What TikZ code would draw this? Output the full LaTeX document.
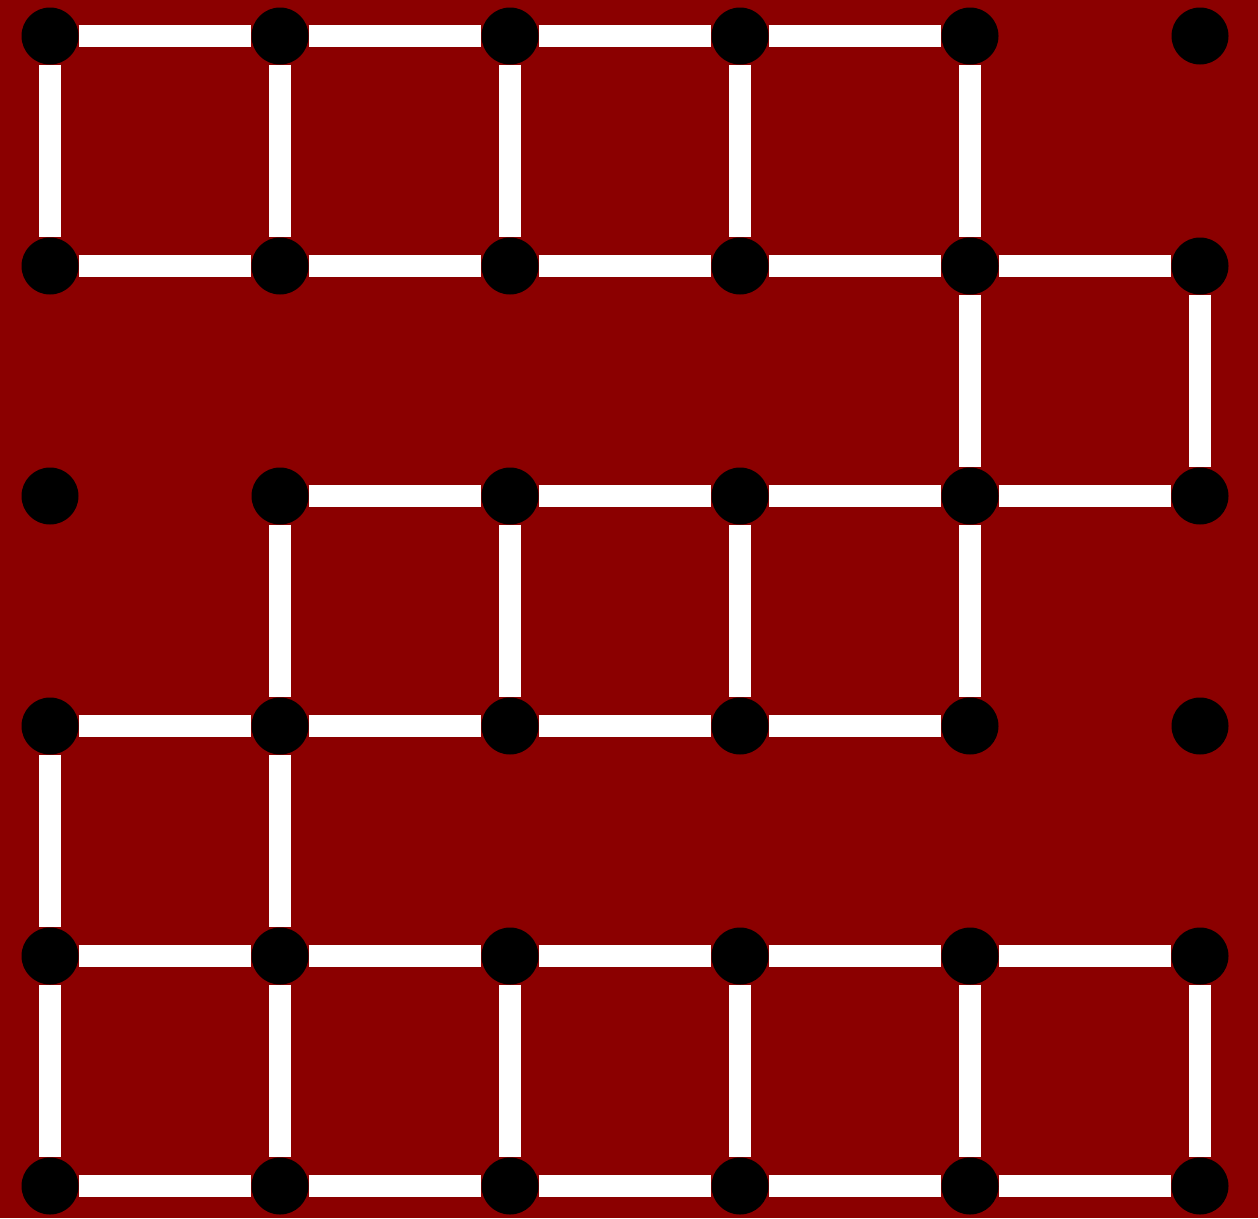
\documentclass[tikz,border=0pt]{standalone}
\definecolor{bgred}{RGB}{139,0,0}
\tikzset{
  dot/.style={circle,fill=black,minimum size=57pt,inner sep=0pt},
  link/.style={white,line width=22pt}
}
\begin{document}
\begin{tikzpicture}[x=1pt,y=-1pt]
\fill[bgred] (0,0) rectangle (1258,1218);
\useasboundingbox (0,0) rectangle (1258,1218);
\foreach \i in {0,...,5}{
  \foreach \j in {0,...,5}{
    \node[dot] (n-\i-\j) at ({50+230*\i},{36+230*\j}) {};
  }
}
% horizontal links
\foreach \a/\b/\r in {0/1/0,1/2/0,2/3/0,3/4/0,
                      0/1/1,1/2/1,2/3/1,3/4/1,4/5/1,
                      1/2/2,2/3/2,3/4/2,4/5/2,
                      0/1/3,1/2/3,2/3/3,3/4/3,
                      0/1/4,1/2/4,2/3/4,3/4/4,4/5/4,
                      0/1/5,1/2/5,2/3/5,3/4/5,4/5/5}{
  \draw[link] (n-\a-\r) -- (n-\b-\r);
}
% vertical links
\foreach \c/\a/\b in {0/0/1,1/0/1,2/0/1,3/0/1,4/0/1,
                      4/1/2,5/1/2,
                      1/2/3,2/2/3,3/2/3,4/2/3,
                      0/3/4,1/3/4,
                      0/4/5,1/4/5,2/4/5,3/4/5,4/4/5,5/4/5}{
  \draw[link] (n-\c-\a) -- (n-\c-\b);
}
\end{tikzpicture}
\end{document}
